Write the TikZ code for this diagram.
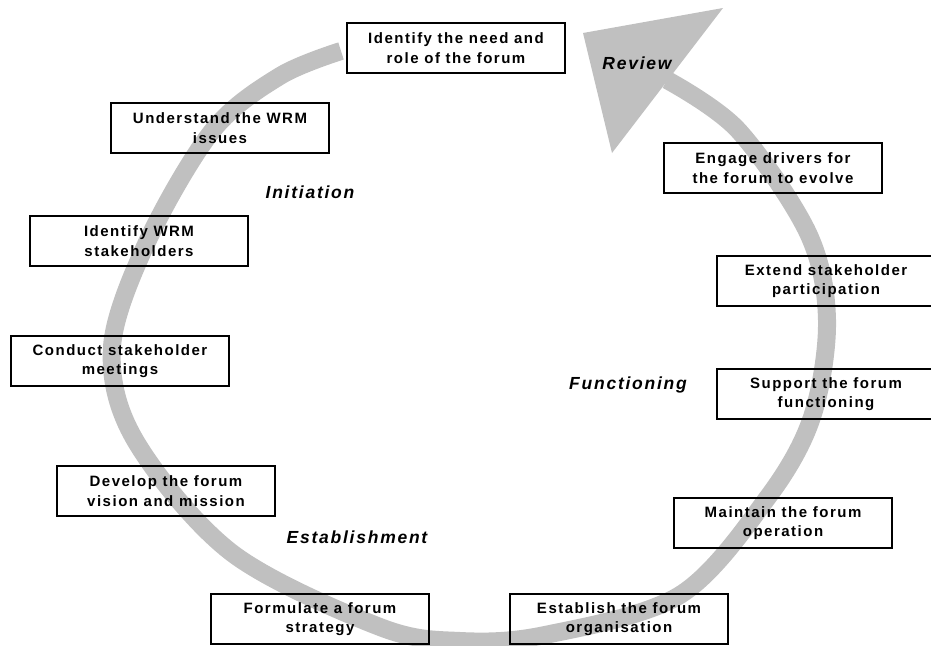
\documentclass[tikz,border=0pt]{standalone}
\usepackage{fontspec}
\setmainfont{Liberation Sans}[LetterSpace=10]
\usepackage{xcolor}
\usepackage{tikz}
\usetikzlibrary{calc}
\definecolor{arcgray}{RGB}{192,192,192}
\begin{document}
\begin{tikzpicture}[x=1pt,y=-1pt,
		stepbox/.style={draw,line width=2.4pt,minimum width=218pt,minimum height=50pt,inner sep=0pt,align=center,font=\fontsize{15}{19.3}\selectfont\bfseries},
		phase/.style={font=\fontsize{17.5}{20}\selectfont\bfseries\itshape}]
		\useasboundingbox (0,0) rectangle (931,645);
		% the cycle
		\draw[arcgray,line width=18pt] plot[smooth,tension=0.55] coordinates {(341,51) (280,76) (213,130) (148,240) (112,347) (135,440) (232,553) (380,627) (460,641) (545,635) (680,595) (768,497) (812,417) (827,320) (808,233) (738,130) (667,80)};
		\fill[arcgray] (583,33) -- (723,8) -- (612,153) -- cycle;
		% steps
		\node[stepbox] (need) at (456,48) {Identify the need and\\role of the forum};
		\node[stepbox] (issues) at (220,128) {Understand the WRM\\issues};
		\node[stepbox] (stake) at (139,241) {Identify WRM\\stakeholders};
		\node[stepbox] (meet) at (120,361) {Conduct stakeholder\\meetings};
		\node[stepbox] (vision) at (166,491) {Develop the forum\\vision and mission};
		\node[stepbox] (strat) at (320,619) {Formulate a forum\\strategy};
		\node[stepbox] (organ) at (619,619) {Establish the forum\\organisation};
		\node[stepbox] (oper) at (783,523) {Maintain the forum\\operation};
		\node[stepbox] (funct) at (826,394) {Support the forum\\functioning};
		\node[stepbox] (partic) at (826,281) {Extend stakeholder\\participation};
		\node[stepbox] (evolve) at (773,168) {Engage drivers for\\the forum to evolve};
		% phases
		\node[phase] (review) at (637,63) {Review};
		\node[phase] (init) at (310,192) {Initiation};
		\node[phase] (estab) at (357,537) {Establishment};
		\node[phase] (func) at (628,385) {Functioning};
	\end{tikzpicture}
\end{document}
